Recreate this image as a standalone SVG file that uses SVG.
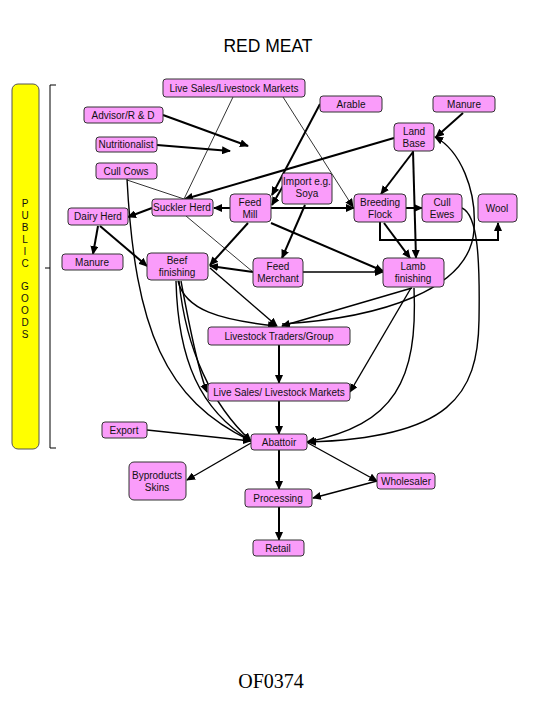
<svg xmlns="http://www.w3.org/2000/svg" width="540" height="720" viewBox="0 0 540 720">
<style>
.n rect{fill:#fa9cfa;stroke:#333;stroke-width:1}
.n text,.t{font-family:"Liberation Sans",Arial,sans-serif;font-size:10px;fill:#111;text-anchor:middle}
.k{fill:none;stroke:#000;stroke-width:2}
.h{fill:none;stroke:#000;stroke-width:0.8}
.c{fill:none;stroke:#000;stroke-width:1.4}
</style>
<defs>
<marker id="a" markerUnits="userSpaceOnUse" markerWidth="9" markerHeight="8" refX="8" refY="4" orient="auto"><path d="M0,0 L9,4 L0,8 z" fill="#000"/></marker>
</defs>
<rect width="540" height="720" fill="#fff"/>
<text x="268" y="52" style="font-family:'Liberation Sans',Arial,sans-serif;font-size:17.5px;text-anchor:middle">RED MEAT</text>

<g id="public-goods">
<rect x="12" y="84" width="27" height="365" rx="6" fill="#ffff00" stroke="#555" stroke-width="1"/>
<g class="t" style="font-size:10px">
<text x="25" y="207">P</text><text x="25" y="219">U</text><text x="25" y="231">B</text><text x="25" y="243">L</text><text x="25" y="255">I</text><text x="25" y="267">C</text>
<text x="25" y="290">G</text><text x="25" y="302">O</text><text x="25" y="314">O</text><text x="25" y="326">D</text><text x="25" y="338">S</text>
</g>
<path d="M56,85 L50,85 L50,448 L56,448 M45,268 L50,268" fill="none" stroke="#000" stroke-width="1"/>
</g>

<g id="connectors">
<path class="h" d="M233,97 L184,199"/>
<path class="h" d="M283,97 L353,207" marker-end="url(#a)"/>
<path class="h" d="M127,180 L184,199"/>
<path class="h" d="M186,216 L253,272"/>
<path class="c" d="M303,272 L383,272" marker-end="url(#a)"/>
<path class="k" d="M163,115 L248,146" marker-end="url(#a)"/>
<path class="k" d="M157,145 L230,151" marker-end="url(#a)"/>
<path class="k" d="M463,113 L436,137" marker-end="url(#a)"/>
<path class="k" d="M394,138 L185,199" marker-end="url(#a)"/>
<path class="k" d="M413,152 L381,194" marker-end="url(#a)"/>
<path class="k" d="M413,151 L416,258" marker-end="url(#a)"/>
<path class="k" d="M320,104 L272,195" marker-end="url(#a)"/>
<path class="k" d="M283,186 L272,205" marker-end="url(#a)"/>
<path class="k" d="M230,208 L214,208" marker-end="url(#a)"/>
<path class="k" d="M271,208 L354,208" marker-end="url(#a)"/>
<path class="k" d="M406,208 L422,208" marker-end="url(#a)"/>
<path class="k" d="M380,222 L380,240 L498,240 L498,223" marker-end="url(#a)"/>
<path class="k" d="M384,223 L410,258" marker-end="url(#a)"/>
<path class="k" d="M305,205 L282,258" marker-end="url(#a)"/>
<path class="k" d="M271,223 L383,271" marker-end="url(#a)"/>
<path class="k" d="M248,223 L210,265" marker-end="url(#a)"/>
<path class="k" d="M253,272 L210,266" marker-end="url(#a)"/>
<path class="k" d="M152,208 L128,217" marker-end="url(#a)"/>
<path class="k" d="M98,226 L93,254" marker-end="url(#a)"/>
<path class="k" d="M100,226 L147,266" marker-end="url(#a)"/>
<path class="c" d="M127,179 C135,330 165,400 251,441" marker-end="url(#a)"/>
<path class="c" d="M176,281 C178,360 200,410 251,441" marker-end="url(#a)"/>
<path class="c" d="M179,281 C186,350 212,405 251,441" marker-end="url(#a)"/>
<path class="c" d="M181,281 C190,330 198,370 207,392" marker-end="url(#a)"/>
<path class="c" d="M178,281 C185,310 220,320 276,326" marker-end="url(#a)"/>
<path class="c" d="M210,268 L277,326" marker-end="url(#a)"/>
<path class="c" d="M412,288 L282,326" marker-end="url(#a)"/>
<path class="c" d="M411,288 L350,392" marker-end="url(#a)"/>
<path class="c" d="M414,288 C418,380 395,425 307,442" marker-end="url(#a)"/>
<path class="c" d="M282,324 C380,318 470,290 474,230 C477,190 460,150 435,137" marker-end="url(#a)"/>
<path class="c" d="M462,208 C478,215 480,260 479,320 C478,395 450,438 308,442" marker-end="url(#a)"/>
<path class="k" d="M279,345 L279,383" marker-end="url(#a)"/>
<path class="k" d="M279,401 L279,434" marker-end="url(#a)"/>
<path class="c" d="M147,430 L251,441" marker-end="url(#a)"/>
<path class="c" d="M251,443 L187,480" marker-end="url(#a)"/>
<path class="c" d="M308,443 L377,481" marker-end="url(#a)"/>
<path class="c" d="M377,481 L313,498" marker-end="url(#a)"/>
<path class="k" d="M279,450 L279,489" marker-end="url(#a)"/>
<path class="k" d="M279,507 L279,540" marker-end="url(#a)"/>
</g>

<g id="live-sales-top" class="n"><rect x="163" y="79" width="142" height="18" rx="3"/><text x="234" y="91.5">Live Sales/Livestock Markets</text></g>
<g id="arable" class="n"><rect x="320" y="96" width="62" height="16" rx="3"/><text x="351" y="107.5">Arable</text></g>
<g id="manure-top" class="n"><rect x="433" y="96" width="62" height="16" rx="3"/><text x="464" y="107.5">Manure</text></g>
<g id="advisor" class="n"><rect x="84" y="107" width="79" height="16" rx="3"/><text x="123" y="118.5">Advisor/R &amp; D</text></g>
<g id="nutritionalist" class="n"><rect x="96" y="137" width="61" height="15" rx="3"/><text x="126" y="148">Nutritionalist</text></g>
<g id="land-base" class="n"><rect x="394" y="123" width="40" height="28" rx="4"/><text x="414" y="135">Land</text><text x="414" y="147">Base</text></g>
<g id="cull-cows" class="n"><rect x="96" y="163" width="61" height="16" rx="3"/><text x="126" y="174.5">Cull Cows</text></g>
<g id="import" class="n"><rect x="282" y="173" width="50" height="31" rx="3"/><text x="307" y="185">Import e.g.</text><text x="307" y="197">Soya</text></g>
<g id="suckler-herd" class="n"><rect x="152" y="199" width="61" height="17" rx="3"/><text x="182" y="211">Suckler Herd</text></g>
<g id="feed-mill" class="n"><rect x="230" y="194" width="41" height="28" rx="4"/><text x="250" y="206">Feed</text><text x="250" y="218">Mill</text></g>
<g id="breeding-flock" class="n"><rect x="354" y="194" width="52" height="28" rx="4"/><text x="380" y="206">Breeding</text><text x="380" y="218">Flock</text></g>
<g id="cull-ewes" class="n"><rect x="422" y="194" width="40" height="28" rx="4"/><text x="442" y="206">Cull</text><text x="442" y="218">Ewes</text></g>
<g id="wool" class="n"><rect x="478" y="194" width="39" height="28" rx="4"/><text x="497" y="212">Wool</text></g>
<g id="dairy-herd" class="n"><rect x="68" y="208" width="60" height="17" rx="3"/><text x="98" y="220">Dairy Herd</text></g>
<g id="manure-left" class="n"><rect x="62" y="254" width="61" height="16" rx="3"/><text x="92" y="265.5">Manure</text></g>
<g id="beef-finishing" class="n"><rect x="147" y="253" width="61" height="27" rx="4"/><text x="177" y="264">Beef</text><text x="177" y="276">finishing</text></g>
<g id="feed-merchant" class="n"><rect x="253" y="258" width="50" height="29" rx="4"/><text x="278" y="270">Feed</text><text x="278" y="282">Merchant</text></g>
<g id="lamb-finishing" class="n"><rect x="383" y="258" width="61" height="29" rx="4"/><text x="413" y="270">Lamb</text><text x="413" y="282">finishing</text></g>
<g id="livestock-traders" class="n"><rect x="208" y="327" width="142" height="18" rx="3"/><text x="279" y="339.5">Livestock Traders/Group</text></g>
<g id="live-sales" class="n"><rect x="208" y="383" width="142" height="18" rx="3"/><text x="279" y="395.5">Live Sales/ Livestock Markets</text></g>
<g id="export" class="n"><rect x="102" y="422" width="45" height="16" rx="3"/><text x="124" y="433.5">Export</text></g>
<g id="abattoir" class="n"><rect x="251" y="434" width="56" height="16" rx="3"/><text x="279" y="445.5">Abattoir</text></g>
<g id="byproducts" class="n"><rect x="129" y="462" width="57" height="38" rx="5"/><text x="157" y="479">Byproducts</text><text x="157" y="491">Skins</text></g>
<g id="wholesaler" class="n"><rect x="377" y="473" width="58" height="16" rx="3"/><text x="406" y="484.5">Wholesaler</text></g>
<g id="processing" class="n"><rect x="245" y="489" width="67" height="18" rx="3"/><text x="278" y="501.5">Processing</text></g>
<g id="retail" class="n"><rect x="253" y="540" width="51" height="16" rx="3"/><text x="278" y="551.5">Retail</text></g>

<text x="271" y="688" style="font-family:'Liberation Serif','Times New Roman',serif;font-size:20px;text-anchor:middle">OF0374</text>
</svg>
